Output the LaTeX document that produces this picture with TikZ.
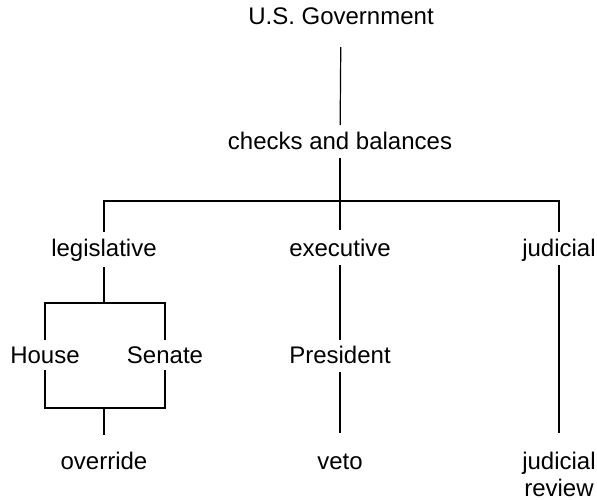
\documentclass[tikz,border=0pt]{standalone}
\usepackage{fontspec}
\setmainfont{Liberation Sans}
\begin{document}
\begin{tikzpicture}[x=1pt,y=1pt,
  lbl/.style={inner sep=0pt, text height=17pt, text depth=5pt, font=\fontsize{24}{27}\selectfont},
  link/.style={line width=1.2pt}]
\useasboundingbox (0,0) rectangle (597,-499);
% labels
\node[lbl] (gov)    at (341,-18)  {U.S. Government};
\node[lbl] (cb)     at (340,-143) {checks and balances};
\node[lbl] (leg)    at (104,-250) {legislative};
\node[lbl] (exe)    at (340,-250) {executive};
\node[lbl] (jud)    at (559,-250) {judicial};
\node[lbl] (house)  at (45,-357)  {House};
\node[lbl] (senate) at (165,-357) {Senate};
\node[lbl] (pres)   at (340,-357) {President};
\node[lbl] (over)   at (104,-463) {override};
\node[lbl] (veto)   at (340,-463) {veto};
\node[inner sep=0pt, align=center, anchor=north, font=\fontsize{24}{27}\selectfont] (jr) at (559,-452) {judicial\\review};
% junctions
\coordinate (bar) at (340,-201);
\coordinate (lj)  at (104,-303);
\coordinate (lb)  at (104,-408);
% connectors
\draw[link, shorten <=29pt, shorten >=18pt] (gov.center) -- (cb.center);
\draw[link, shorten <=15pt, shorten >=20pt] (cb.center) -- (exe.center);
\draw[link, shorten <=18pt, shorten >=18pt] (leg.center) |- (bar) -| (jud.center);
\draw[link, shorten <=17pt] (leg.center) -- (lj);
\draw[link, shorten <=17pt, shorten >=17pt] (house.center) |- (lj) -| (senate.center);
\draw[link, shorten <=13pt, shorten >=13pt] (house.center) |- (lb) -| (senate.center);
\draw[link, shorten >=28pt] (lb) -- (over.center);
\draw[link, shorten <=15pt, shorten >=17pt] (exe.center) -- (pres.center);
\draw[link, shorten <=15pt, shorten >=30pt] (pres.center) -- (veto.center);
\draw[link, shorten <=15pt, shorten >=19pt] (jud.center) -- (jr.north);
\end{tikzpicture}
\end{document}
